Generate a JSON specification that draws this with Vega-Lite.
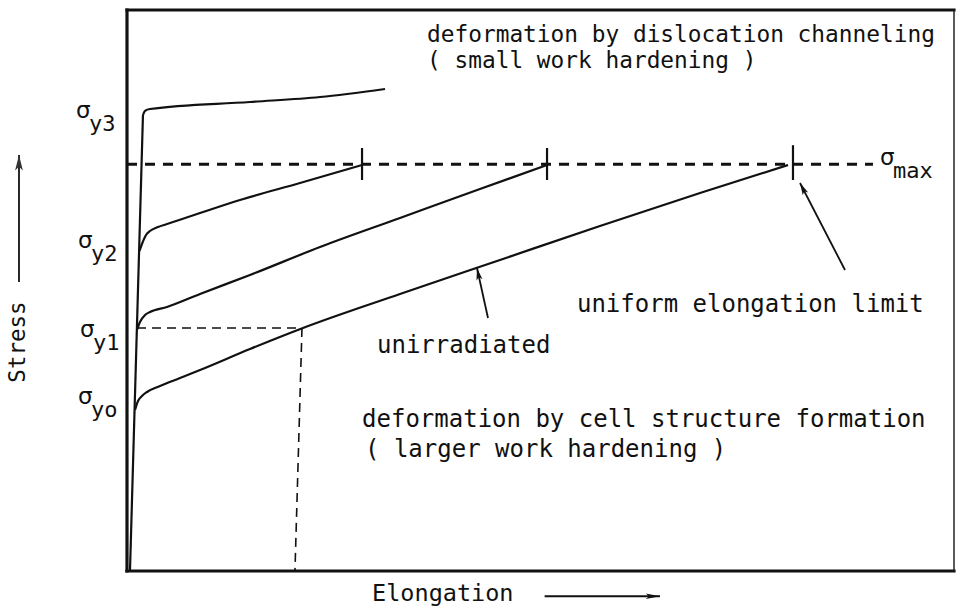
{
  "$schema": "https://vega.github.io/schema/vega-lite/v6.json",
  "width": 827,
  "height": 561,
  "autosize": {"type": "none"},
  "padding": {"left": 127, "top": 10, "right": 6, "bottom": 40},
  "background": "white",
  "config": {"view": {"stroke": null}},
  "datasets": {
    "curves": [
      {"curve": "elastic", "i": 0, "x": 0.36, "y": 0},
      {"curve": "elastic", "i": 1, "x": 1.93, "y": 81.28},
      {"curve": "y3", "i": 0, "x": 1.93, "y": 81.28},
      {"curve": "y3", "i": 1, "x": 2.18, "y": 82.0},
      {"curve": "y3", "i": 2, "x": 2.78, "y": 82.35},
      {"curve": "y3", "i": 3, "x": 14.87, "y": 83.6},
      {"curve": "y3", "i": 4, "x": 23.34, "y": 84.49},
      {"curve": "y3", "i": 5, "x": 31.2, "y": 85.92},
      {"curve": "y2", "i": 0, "x": 1.51, "y": 57.04},
      {"curve": "y2", "i": 1, "x": 1.81, "y": 58.29},
      {"curve": "y2", "i": 2, "x": 2.3, "y": 59.89},
      {"curve": "y2", "i": 3, "x": 2.78, "y": 60.61},
      {"curve": "y2", "i": 4, "x": 3.75, "y": 61.32},
      {"curve": "y2", "i": 5, "x": 4.84, "y": 61.85},
      {"curve": "y2", "i": 6, "x": 8.83, "y": 63.81},
      {"curve": "y2", "i": 7, "x": 13.66, "y": 66.13},
      {"curve": "y2", "i": 8, "x": 20.92, "y": 69.16},
      {"curve": "y2", "i": 9, "x": 28.42, "y": 72.37},
      {"curve": "y1", "i": 0, "x": 1.21, "y": 42.96},
      {"curve": "y1", "i": 1, "x": 1.57, "y": 44.39},
      {"curve": "y1", "i": 2, "x": 2.18, "y": 45.63},
      {"curve": "y1", "i": 3, "x": 2.78, "y": 46.17},
      {"curve": "y1", "i": 4, "x": 4.84, "y": 47.06},
      {"curve": "y1", "i": 5, "x": 8.83, "y": 49.38},
      {"curve": "y1", "i": 6, "x": 14.87, "y": 52.76},
      {"curve": "y1", "i": 7, "x": 23.34, "y": 57.75},
      {"curve": "y1", "i": 8, "x": 33.01, "y": 62.92},
      {"curve": "y1", "i": 9, "x": 42.68, "y": 68.09},
      {"curve": "y1", "i": 10, "x": 50.79, "y": 72.37},
      {"curve": "yo", "i": 0, "x": 0.97, "y": 28.7},
      {"curve": "yo", "i": 1, "x": 1.33, "y": 30.3},
      {"curve": "yo", "i": 2, "x": 1.81, "y": 31.19},
      {"curve": "yo", "i": 3, "x": 2.42, "y": 31.91},
      {"curve": "yo", "i": 4, "x": 3.99, "y": 32.98},
      {"curve": "yo", "i": 5, "x": 6.41, "y": 34.4},
      {"curve": "yo", "i": 6, "x": 8.83, "y": 35.83},
      {"curve": "yo", "i": 7, "x": 14.87, "y": 39.57},
      {"curve": "yo", "i": 8, "x": 21.28, "y": 43.32},
      {"curve": "yo", "i": 9, "x": 33.01, "y": 49.38},
      {"curve": "yo", "i": 10, "x": 45.1, "y": 55.44},
      {"curve": "yo", "i": 11, "x": 57.19, "y": 61.5},
      {"curve": "yo", "i": 12, "x": 69.29, "y": 67.38},
      {"curve": "yo", "i": 13, "x": 79.93, "y": 72.37}
    ],
    "frameThick": [
      {"x": 0, "y": 0, "x2": 0, "y2": 100},
      {"x": 0, "y": 100, "x2": 100, "y2": 100},
      {"x": 0, "y": 0, "x2": 100, "y2": 0}
    ],
    "frameThin": [
      {"x": 100, "y": 0, "x2": 100, "y2": 100}
    ],
    "dashMax": [
      {"x": 0, "y": 72.5, "x2": 90.2, "y2": 72.5}
    ],
    "dashY1": [
      {"x": 1.21, "y": 43.32, "x2": 21.16, "y2": 43.32},
      {"x": 21.16, "y": 43.32, "x2": 20.31, "y2": 0}
    ],
    "ticks": [
      {"x": 28.42, "y": 69.7, "x2": 28.42, "y2": 75.4},
      {"x": 50.79, "y": 69.7, "x2": 50.79, "y2": 75.4},
      {"x": 80.53, "y": 69.7, "x2": 80.53, "y2": 75.9}
    ],
    "arrows": [
      {"name": "unirradiated", "x": 43.65, "y": 45.1, "x2": 42.32, "y2": 54.01},
      {"name": "uniform", "x": 86.82, "y": 53.65, "x2": 81.38, "y2": 69.16},
      {"name": "stress", "x": -13.06, "y": 51.52, "x2": -13.06, "y2": 74.15},
      {"name": "elongation", "x": 50.5, "y": -4.5, "x2": 64.45, "y2": -4.5}
    ],
    "notesTop": [
      {"label": "deformation by dislocation channeling", "x": 36.28, "y": 94.3},
      {"label": "( small work hardening )", "x": 36.28, "y": 89.66}
    ],
    "notes": [
      {"label": "uniform elongation limit", "x": 54.41, "y": 46.17},
      {"label": "unirradiated", "x": 30.23, "y": 38.86},
      {"label": "deformation by cell structure formation", "x": 28.42, "y": 25.67},
      {"label": "( larger work hardening )", "x": 28.78, "y": 20.32}
    ],
    "sigmas": [
      {"sym": "σ", "sub": "y3", "x": -6.17, "y": 80.75},
      {"sym": "σ", "sub": "y2", "x": -5.93, "y": 57.58},
      {"sym": "σ", "sub": "y1", "x": -5.68, "y": 41.71},
      {"sym": "σ", "sub": "yo", "x": -5.93, "y": 29.77},
      {"sym": "σ", "sub": "max", "x": 91.05, "y": 72.37}
    ],
    "titles": [
      {"label": "Stress", "x": -13.18, "y": 40.82},
      {"label": "Elongation", "x": 29.63, "y": -4.1}
    ]
  },
  "encoding": {
    "x": {"field": "x", "type": "quantitative", "scale": {"domain": [0, 100], "nice": false}, "axis": null},
    "y": {"field": "y", "type": "quantitative", "scale": {"domain": [0, 100], "nice": false}, "axis": null}
  },
  "layer": [
    {
      "data": {"name": "frameThick"},
      "mark": {"type": "rule", "color": "#111", "strokeWidth": 3.2, "strokeCap": "square"},
      "encoding": {"x2": {"field": "x2"}, "y2": {"field": "y2"}}
    },
    {
      "data": {"name": "frameThin"},
      "mark": {"type": "rule", "color": "#222", "strokeWidth": 1.5},
      "encoding": {"x2": {"field": "x2"}, "y2": {"field": "y2"}}
    },
    {
      "data": {"name": "dashMax"},
      "mark": {"type": "rule", "color": "#111", "strokeWidth": 3, "strokeDash": [10, 8]},
      "encoding": {"x2": {"field": "x2"}, "y2": {"field": "y2"}}
    },
    {
      "data": {"name": "dashY1"},
      "mark": {"type": "rule", "color": "#111", "strokeWidth": 1.6, "strokeDash": [9, 6]},
      "encoding": {"x2": {"field": "x2"}, "y2": {"field": "y2"}}
    },
    {
      "data": {"name": "ticks"},
      "mark": {"type": "rule", "color": "#111", "strokeWidth": 2.2},
      "encoding": {"x2": {"field": "x2"}, "y2": {"field": "y2"}}
    },
    {
      "data": {"name": "curves"},
      "mark": {"type": "line", "color": "#111", "strokeWidth": 2.2, "interpolate": "monotone"},
      "encoding": {"detail": {"field": "curve"}, "order": {"field": "i", "type": "quantitative"}}
    },
    {
      "data": {"name": "arrows"},
      "mark": {"type": "rule", "color": "#111", "strokeWidth": 1.8},
      "encoding": {"x2": {"field": "x2"}, "y2": {"field": "y2"}}
    },
    {
      "data": {"name": "arrows"},
      "transform": [{"filter": "datum.name === 'unirradiated'"}],
      "mark": {"type": "point", "filled": true, "color": "#111", "opacity": 1, "size": 260, "angle": -12, "shape": "M0,0L0.38,1.5L0,1.15L-0.38,1.5Z"},
      "encoding": {"x": {"field": "x2", "type": "quantitative"}, "y": {"field": "y2", "type": "quantitative"}}
    },
    {
      "data": {"name": "arrows"},
      "transform": [{"filter": "datum.name === 'uniform'"}],
      "mark": {"type": "point", "filled": true, "color": "#111", "opacity": 1, "size": 260, "angle": -27, "shape": "M0,0L0.38,1.5L0,1.15L-0.38,1.5Z"},
      "encoding": {"x": {"field": "x2", "type": "quantitative"}, "y": {"field": "y2", "type": "quantitative"}}
    },
    {
      "data": {"name": "arrows"},
      "transform": [{"filter": "datum.name === 'stress'"}],
      "mark": {"type": "point", "filled": true, "color": "#333", "opacity": 1, "size": 420, "angle": 0, "shape": "M0,0L0.38,1.5L0,1.15L-0.38,1.5Z"},
      "encoding": {"x": {"field": "x2", "type": "quantitative"}, "y": {"field": "y2", "type": "quantitative"}}
    },
    {
      "data": {"name": "arrows"},
      "transform": [{"filter": "datum.name === 'elongation'"}],
      "mark": {"type": "point", "filled": true, "color": "#111", "opacity": 1, "size": 360, "angle": 90, "shape": "M0,0L0.3,1.5L0,1.15L-0.3,1.5Z"},
      "encoding": {"x": {"field": "x2", "type": "quantitative"}, "y": {"field": "y2", "type": "quantitative"}}
    },
    {
      "data": {"name": "notesTop"},
      "mark": {"type": "text", "align": "left", "baseline": "alphabetic", "font": "DejaVu Sans Mono", "fontSize": 22.8, "color": "#111"},
      "encoding": {"text": {"field": "label"}}
    },
    {
      "data": {"name": "notes"},
      "mark": {"type": "text", "align": "left", "baseline": "alphabetic", "font": "DejaVu Sans Mono", "fontSize": 24, "color": "#111"},
      "encoding": {"text": {"field": "label"}}
    },
    {
      "data": {"name": "sigmas"},
      "mark": {"type": "text", "align": "left", "baseline": "alphabetic", "font": "DejaVu Sans", "fontSize": 23, "color": "#111"},
      "encoding": {"text": {"field": "sym"}}
    },
    {
      "data": {"name": "sigmas"},
      "mark": {"type": "text", "align": "left", "baseline": "alphabetic", "dx": 13, "dy": 13, "font": "DejaVu Sans Mono", "fontSize": 22, "color": "#111"},
      "encoding": {"text": {"field": "sub"}}
    },
    {
      "data": {"name": "titles"},
      "transform": [{"filter": "datum.label === 'Stress'"}],
      "mark": {"type": "text", "align": "center", "baseline": "middle", "angle": 270, "font": "DejaVu Sans Mono", "fontSize": 22.5, "color": "#111"},
      "encoding": {"text": {"field": "label"}}
    },
    {
      "data": {"name": "titles"},
      "transform": [{"filter": "datum.label === 'Elongation'"}],
      "mark": {"type": "text", "align": "left", "baseline": "middle", "font": "DejaVu Sans Mono", "fontSize": 23.5, "color": "#111"},
      "encoding": {"text": {"field": "label"}}
    }
  ]
}
